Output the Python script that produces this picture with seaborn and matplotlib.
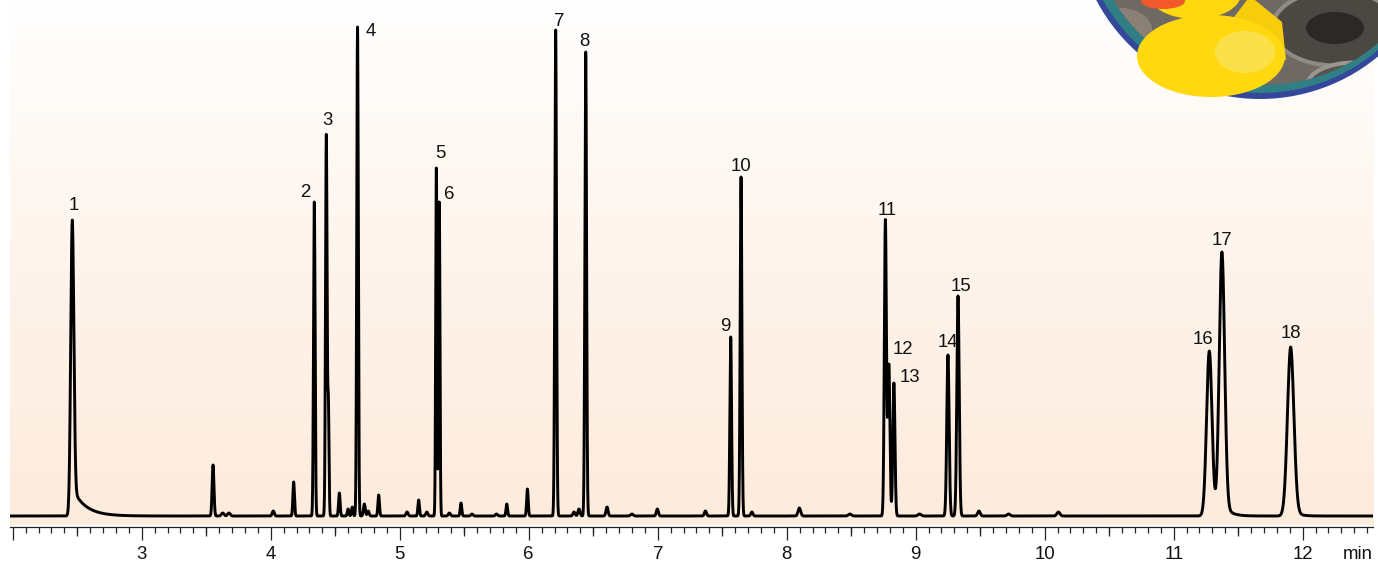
import numpy as np
import pandas as pd
import matplotlib
matplotlib.use("Agg")
import matplotlib.pyplot as plt
from matplotlib.patches import Circle, Ellipse, Polygon
from matplotlib.ticker import MultipleLocator, FixedLocator
import seaborn as sns

# --- numbered peaks (retention time in min, height, width) ---
peak_label = [str(i) for i in range(1, 19)]
peak_rt = [2.462, 4.338, 4.431, 4.673, 5.284, 5.307, 6.209, 6.442, 7.566,
           7.646, 8.765, 8.792, 8.831, 9.250, 9.328, 11.276, 11.374, 11.907]
peak_height = [296, 314, 381, 489, 348, 314, 486, 464, 179,
               339, 296, 151, 133, 161, 220, 165, 264, 169]
peak_sigma = [0.012, 0.006, 0.006, 0.006, 0.005, 0.005, 0.0065, 0.0065, 0.0065,
              0.0065, 0.008, 0.008, 0.008, 0.009, 0.009, 0.021, 0.021, 0.025]
peak_tail = [28, 0, 0, 0, 0, 0, 0, 0, 0, 0, 0, 0, 0, 0, 0, 0, 15, 10]
peak_tau = [0.1, 1, 1, 1, 1, 1, 1, 1, 1, 1, 1, 1, 1, 1, 1, 1, 0.05, 0.04]

# --- small unlabelled peaks ---
minor_rt = [3.553, 3.628, 3.676, 4.02, 4.178, 4.447, 4.532, 4.60, 4.632, 4.726,
            4.756, 4.837, 5.057, 5.147, 5.21, 5.385, 5.475, 5.56, 5.75, 5.83,
            5.99, 6.351, 6.39, 6.607, 6.80, 6.997, 7.37, 7.73, 8.098, 8.49,
            9.03, 9.49, 9.72, 10.106]
minor_height = [51, 3, 3, 5, 34, 110, 23, 7, 9, 12,
                5, 21, 4, 16, 4, 3, 13, 2, 2, 12,
                27, 4, 7, 9, 2, 7, 5, 4, 8, 2,
                2, 5, 2, 4]
minor_sigma = [0.007, 0.01, 0.01, 0.008, 0.006, 0.005, 0.006, 0.006, 0.006, 0.007,
               0.007, 0.006, 0.008, 0.006, 0.008, 0.008, 0.006, 0.008, 0.008, 0.006,
               0.006, 0.008, 0.008, 0.008, 0.01, 0.008, 0.008, 0.008, 0.01, 0.012,
               0.012, 0.01, 0.012, 0.012]

# label offsets from apex, pixels (dx, dy of text centre)
label_offset = [(1, 17), (-9, 12), (1, 17), (13, -2), (4, 17), (10, 10), (4, 11),
                (-1, 13), (-5, 13), (0, 13), (2, 12), (14, 18), (16, 8), (0, 15),
                (3, 12), (-6, 14), (0, 14), (0, 16)]

T_MIN, T_MAX = 1.979, 12.545


def peak_shape(t, rt, h, s, a, tau):
    g = np.exp(-0.5 * ((t - rt) / s) ** 2)
    tail = np.where(t < rt, g, np.exp(-np.clip(t - rt, 0, None) / tau))
    return (h - a) * g + a * tail


t = np.arange(T_MIN, T_MAX, 0.0005)
signal = np.zeros_like(t)
for rt, h, s, a, tau in zip(peak_rt, peak_height, peak_sigma, peak_tail, peak_tau):
    signal += peak_shape(t, rt, h, s, a, tau)
for rt, h, s in zip(minor_rt, minor_height, minor_sigma):
    signal += peak_shape(t, rt, h, s, 0, 1)

df = pd.DataFrame({"time": t, "signal": signal})

sns.set_theme(style="white")
plt.rcParams["font.family"] = ["Liberation Sans", "DejaVu Sans"]

W, H = 1378, 564
fig = plt.figure(figsize=(W / 100, H / 100), dpi=100)
ax = fig.add_axes([10 / W, 37 / H, 1363 / W, 527 / H])

# background gradient
grad = np.linspace(0, 1, 256)[:, None]
top = np.array([255, 255, 255]) / 255
bot = np.array([253, 235, 220]) / 255
img = top + (bot - top) * grad[..., None] ** 0.9
ax.imshow(img, extent=[T_MIN, T_MAX, -9, 516], aspect="auto", origin="upper", zorder=0)

sns.lineplot(data=df, x="time", y="signal", ax=ax, color="black", lw=2.1,
             estimator=None, sort=False, zorder=3)
for ln in ax.get_lines():
    ln.set_solid_joinstyle("round")

for lab, rt, h, (dx, dy) in zip(peak_label, peak_rt, peak_height, label_offset):
    ax.annotate(lab, xy=(rt, h), xytext=(dx, dy - 6.7), textcoords="offset pixels",
                ha="center", va="baseline", fontsize=13.4, color="#111111", zorder=4)

ax.set_xlim(T_MIN, T_MAX)
ax.set_ylim(-11, 516)
ax.set_xlabel("")
ax.set_ylabel("")
ax.set_yticks([])
for side in ["left", "right", "top"]:
    ax.spines[side].set_visible(False)
ax.spines["bottom"].set_color("#222222")
ax.spines["bottom"].set_linewidth(0.9)

major = list(range(2, 13))
ax.xaxis.set_major_locator(FixedLocator(major))
ax.set_xticklabels(["" if m == 2 else str(m) for m in major])
ax.xaxis.set_minor_locator(MultipleLocator(0.1))
ax.tick_params(axis="x", which="major", direction="out", length=9.4, width=0.9,
               color="#222222", pad=4.6, labelsize=13.4, labelcolor="#111111", bottom=True)
ax.tick_params(axis="x", which="minor", direction="out", length=4.3, width=0.9,
               color="#222222", bottom=True)

sec = ax.secondary_xaxis("bottom")
sec.xaxis.set_major_locator(FixedLocator([m + 0.5 for m in range(2, 12)]))
sec.tick_params(axis="x", which="major", direction="out", length=6.5, width=0.9,
                color="#222222", labelbottom=False)
sec.spines["bottom"].set_visible(False)

ax.annotate("min", xy=(12.43, 0), xycoords=("data", "axes fraction"),
            xytext=(0, -13 - 6.4), textcoords="offset pixels",
            ha="center", va="top", fontsize=13.4, color="#111111")

# decorative badge in the top right corner
dax = fig.add_axes([0, 0, 1, 1], zorder=5)
dax.set_xlim(0, W)
dax.set_ylim(H, 0)
dax.axis("off")
dax.patch.set_alpha(0)
dax.add_patch(Circle((1260, -86), 185, fc="#34479a", ec="none"))
dax.add_patch(Circle((1261, -88), 181, fc="#2f7f84", ec="none"))
inner = Circle((1264, -91), 176, fc="#6f6964", ec="none")
dax.add_patch(inner)
for xy, w, h, fc, ec in [((1335, 28), 125, 75, "#4b4743", "#8f8a84"),
                         ((1355, 85), 95, 45, "#57534f", "#9a958f"),
                         ((1120, 30), 60, 40, "#8a8076", "#8a8076")]:
    e = Ellipse(xy, w, h, fc=fc, ec=ec, lw=3)
    dax.add_patch(e)
    e.set_clip_path(inner)
for xy, w, h in [((1335, 28), 58, 32), ((1357, 85), 45, 18)]:
    e = Ellipse(xy, w, h, fc="#2c2825", ec="none")
    dax.add_patch(e)
    e.set_clip_path(inner)
dax.add_patch(Polygon([(1228, 25), (1250, -4), (1282, 22), (1286, 60), (1240, 62)],
                      closed=True, fc="#f7cc0c", ec="none"))
dax.add_patch(Ellipse((1211, 56), 148, 82, fc="#ffd80f", ec="none"))
dax.add_patch(Ellipse((1245, 52), 60, 42, fc="#fbe04a", ec="none"))
dax.add_patch(Ellipse((1195, -6), 92, 50, fc="#ffd80f", ec="none"))
dax.add_patch(Ellipse((1163, 1), 44, 16, fc="#f2582a", ec="none"))

fig.savefig("out.png", dpi=100)
